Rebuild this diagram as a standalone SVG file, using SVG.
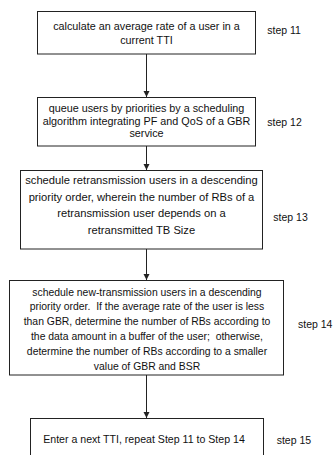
<svg xmlns="http://www.w3.org/2000/svg" width="334" height="455" viewBox="0 0 334 455">
<defs>
<style>
.box{fill:#fff;stroke:#222;stroke-width:1}
.t{font-family:"Liberation Sans",Arial,sans-serif;font-size:10.8px;fill:#111;text-anchor:middle}
.t3{font-size:11.2px}
.t4{font-size:10.4px}
.t5{font-size:10.6px}
.s{font-family:"Liberation Sans",Arial,sans-serif;font-size:10.5px;fill:#111}
.c{stroke:#222;stroke-width:1;fill:none;marker-end:url(#ah)}
</style>
<marker id="ah" viewBox="0 0 6 8" refX="6" refY="4" markerWidth="6" markerHeight="8" markerUnits="userSpaceOnUse" orient="auto">
<path d="M0,1 L6,4 L0,7 Z" fill="#222"/>
</marker>
</defs>
<rect width="334" height="455" fill="#fff"/>
<g id="connectors">
<line class="c" x1="146.5" y1="54" x2="146.5" y2="97"/>
<line class="c" x1="146.5" y1="146" x2="146.5" y2="170"/>
<line class="c" x1="146.5" y1="249" x2="146.5" y2="280"/>
<line class="c" x1="146.5" y1="375" x2="146.5" y2="418"/>
</g>
<g id="step11">
<rect class="box" x="37.5" y="11.5" width="218" height="42.5"/>
<text class="t" x="146.5" y="29.5">calculate an average rate of a user in a</text>
<text class="t" x="146.5" y="44.2">current TTI</text>
<text class="s" x="267.3" y="33.5">step 11</text>
</g>
<g id="step12">
<rect class="box" x="37.5" y="97.5" width="218" height="48.5"/>
<text class="t" x="146.5" y="112">queue users by priorities by a scheduling</text>
<text class="t" x="146.5" y="124.5">algorithm integrating PF and QoS of a GBR</text>
<text class="t" x="146.5" y="137">service</text>
<text class="s" x="267.3" y="125.5">step 12</text>
</g>
<g id="step13">
<rect class="box" x="20.5" y="170.5" width="242" height="78.5"/>
<text class="t t3" x="141.5" y="184">schedule retransmission users in a descending</text>
<text class="t t3" x="141.5" y="200.5">priority order, wherein the number of RBs of a</text>
<text class="t t3" x="141.5" y="217">retransmission user depends on a</text>
<text class="t t3" x="141.5" y="233.5">retransmitted TB Size</text>
<text class="s" x="273.3" y="221">step 13</text>
</g>
<g id="step14">
<rect class="box" x="9.5" y="280.5" width="274" height="94.5"/>
<text class="t t4" x="147" y="295.5">schedule new-transmission users in a descending</text>
<text class="t t4" x="147" y="310" xml:space="preserve">priority order.  If the average rate of the user is less</text>
<text class="t t4" x="147" y="325">than GBR, determine the number of RBs according to</text>
<text class="t t4" x="147" y="340" xml:space="preserve">the data amount in a buffer of the user;  otherwise,</text>
<text class="t t4" x="147" y="354.5">determine the number of RBs according to a smaller</text>
<text class="t t4" x="147" y="369.5">value of GBR and BSR</text>
<text class="s" x="298" y="328">step 14</text>
</g>
<g id="step15">
<rect class="box" x="30.5" y="418.5" width="233" height="45"/>
<text class="t t5" x="144" y="442.5">Enter a next TTI, repeat Step 11 to Step 14</text>
<text class="s" x="276.7" y="444">step 15</text>
</g>
</svg>
